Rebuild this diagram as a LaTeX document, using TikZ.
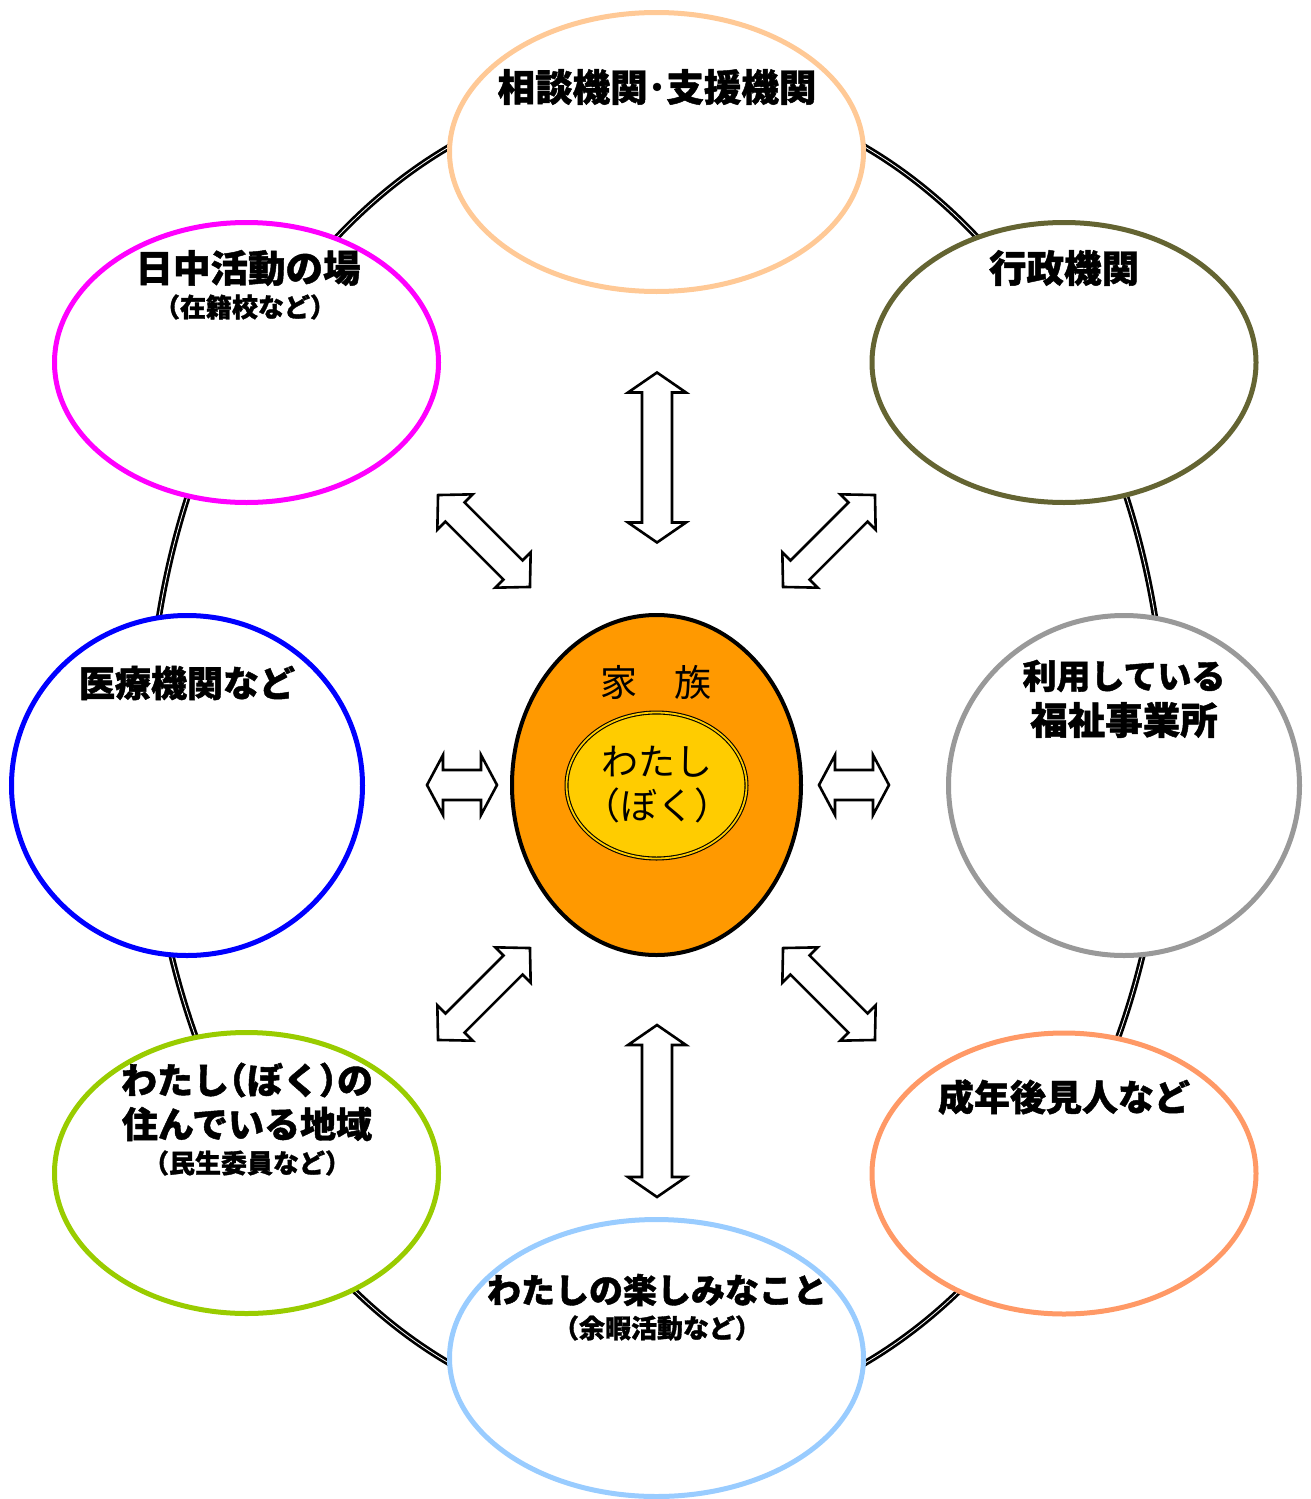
\documentclass[tikz,border=0pt]{standalone}
\usepackage{fontspec}
\setmainfont{Noto Sans CJK JP}[BoldFeatures={FakeBold=1.2}]
\newfontfamily\jphalt{Noto Sans CJK JP}[RawFeature=+halt,BoldFeatures={FakeBold=1.2}]
\usetikzlibrary{shapes.geometric}
\definecolor{cPeach}{HTML}{FFC996}
\definecolor{cMagenta}{HTML}{FF00FF}
\definecolor{cOlive}{HTML}{646432}
\definecolor{cBlue}{HTML}{0000FF}
\definecolor{cGray}{HTML}{999999}
\definecolor{cGreen}{HTML}{99CC00}
\definecolor{cSalmon}{HTML}{FF9966}
\definecolor{cSky}{HTML}{99CCFF}
\definecolor{cOrange}{HTML}{FF9900}
\definecolor{cYellow}{HTML}{FFCC00}
% double arrow: #1 centre, #2 angle, #3 half length, #4 head length, #5 head half width, #6 shaft half width
\newcommand\DblArr[6]{%
  \begin{scope}[shift={#1},rotate=#2]
    \draw[arr] (-#3,0) -- (-#3+#4,#5) -- (-#3+#4,#6) -- (#3-#4,#6) -- (#3-#4,#5) -- (#3,0)
      -- (#3-#4,-#5) -- (#3-#4,-#6) -- (-#3+#4,-#6) -- (-#3+#4,-#5) -- cycle;
  \end{scope}}
\begin{document}
\begin{tikzpicture}[x=1pt,y=-1pt,
  sat/.style={ellipse, draw, line width=5pt, fill=white, inner sep=0pt},
  lbl/.style={font=\fontsize{36pt}{40pt}\selectfont\bfseries, inner sep=0pt, anchor=center},
  lblk/.style={font=\fontsize{37.5pt}{40pt}\selectfont\bfseries, inner sep=0pt, anchor=center},
  lbla/.style={font=\fontsize{34pt}{40pt}\selectfont\bfseries, inner sep=0pt, anchor=center},
  sub/.style={font=\fontsize{26pt}{28pt}\selectfont\bfseries, inner sep=0pt, anchor=center},
  ctr/.style={font=\fontsize{37pt}{42pt}\selectfont, inner sep=0pt, anchor=center},
  arr/.style={draw=black, line width=2.6pt, fill=white, line join=miter},
  ring/.style={draw=black, line width=2.7pt, double=white, double distance=0.8pt}]
\useasboundingbox (0,0) rectangle (1310,1499);
% connecting ring
\coordinate (ringc) at (657,755);
\draw[ring] (ringc) ellipse [x radius=509, y radius=666];
% satellites
\node[sat, draw=cPeach, minimum width=414pt, minimum height=279pt] (top) at (656.5,152) {};
\node[sat, draw=cMagenta, minimum width=384pt, minimum height=280pt] (tl) at (246.5,362.5) {};
\node[sat, draw=cOlive, minimum width=384pt, minimum height=280pt] (tr) at (1064,362.5) {};
\node[sat, draw=cBlue, minimum width=351pt, minimum height=340pt] (ml) at (187,785.5) {};
\node[sat, draw=cGray, minimum width=351pt, minimum height=340pt] (mr) at (1124,785.5) {};
\node[sat, draw=cGreen, minimum width=384pt, minimum height=281pt] (bl) at (246.5,1173) {};
\node[sat, draw=cSalmon, minimum width=384pt, minimum height=281pt] (br) at (1064,1173.5) {};
\node[sat, draw=cSky, minimum width=414pt, minimum height=277pt] (bot) at (656.5,1358) {};
% centre
\node[ellipse, draw=black, line width=4pt, fill=cOrange, minimum width=289pt, minimum height=340pt, inner sep=0pt] (fam) at (656.5,785) {};
\node[ellipse, draw=black, line width=1.1pt, double=cYellow, double distance=1.8pt, fill=cYellow, minimum width=180pt, minimum height=146pt, inner sep=0pt] (me) at (656.5,785.5) {};
\node[ctr] (famtxt) at (656,682) {家　族};
\node[ctr] (metxt1) at (657,762) {わたし};
\node[ctr] (metxt2) at (657,805) {（ぼく）};
% labels
\node[lblk] (t1) at (657,87) {相談機関･支援機関};
\node[lblk] (tl1) at (248,268) {日中活動の場};
\node[sub] (tl2) at (245,307) {（在籍校など）};
\node[lblk] (tr1) at (1064,268) {行政機関};
\node[lbl] (ml1) at (187,683) {医療機関など};
\node[lbla] (mr1) at (1124,676) {利用している};
\node[lblk] (mr2) at (1124,720) {福祉事業所};
\node[lbl, font=\fontsize{36pt}{40pt}\selectfont\bfseries\jphalt] (bl1) at (247,1080) {わたし（ぼく）の};
\node[lbl] (bl2) at (247,1124) {住んでいる地域};
\node[sub] (bl3) at (247,1163) {（民生委員など）};
\node[lbl] (br1) at (1064,1097) {成年後見人など};
\node[lbla] (b1) at (657,1290) {わたしの楽しみなこと};
\node[sub] (b2) at (657,1328) {（余暇活動など）};
% arrows
\DblArr{(657,457.5)}{90}{85}{20}{29}{15}
\DblArr{(657,1111)}{90}{86}{20}{29}{15}
\DblArr{(462,785)}{0}{35}{16}{30}{15}
\DblArr{(854,785)}{0}{35}{16}{30}{15}
\DblArr{(484,541)}{-45}{65}{24}{25}{13.5}
\DblArr{(829,541)}{45}{65}{24}{25}{13.5}
\DblArr{(484,994)}{45}{65}{24}{25}{13.5}
\DblArr{(829,994)}{-45}{65}{24}{25}{13.5}
\end{tikzpicture}
\end{document}
